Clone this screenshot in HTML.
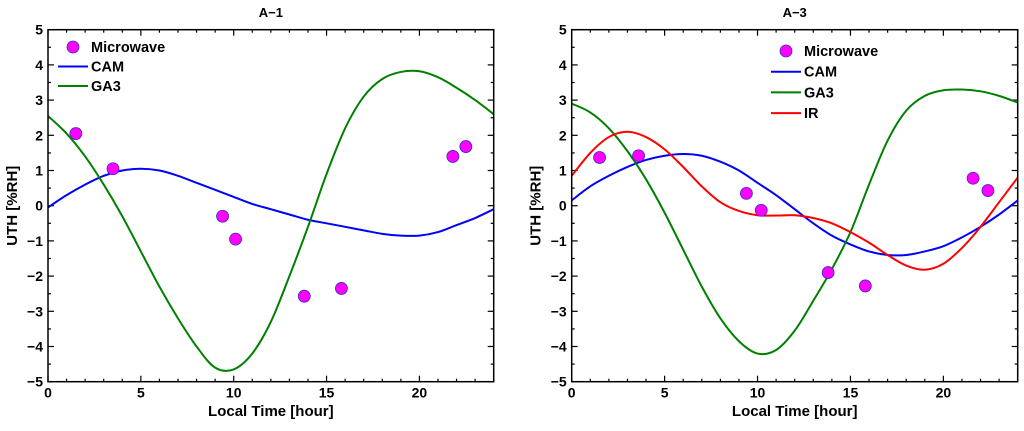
<!DOCTYPE html>
<html><head><meta charset="utf-8"><style>
body{margin:0;background:#fff}
svg text{font-family:"Liberation Sans",Arial,sans-serif;font-weight:bold;fill:#000}
</style></head><body>
<svg id="s" width="1024" height="426" viewBox="0 0 1024 426"></svg>
<script>
const hours=[0,1,2,3,4,5,6,7,8,9,10,11,12,13,14,15,16,17,18,19,20,21,22,23,24];
const a1Cam=[-0.05,0.3,0.6,0.85,1.0,1.05,1.0,0.85,0.65,0.45,0.25,0.05,-0.1,-0.25,-0.4,-0.5,-0.6,-0.7,-0.8,-0.85,-0.85,-0.75,-0.55,-0.35,-0.1];
const a1Ga3=[2.55,2.05,1.4,0.6,-0.3,-1.3,-2.3,-3.2,-4.0,-4.6,-4.65,-4.2,-3.3,-2.0,-0.6,0.9,2.2,3.1,3.6,3.8,3.82,3.65,3.35,3.0,2.6];
const a1MwX=[1.5,3.5,9.4,10.1,13.8,15.8,21.8,22.5];
const a1MwY=[2.05,1.05,-0.3,-0.95,-2.57,-2.35,1.4,1.68];
const a3Cam=[0.15,0.55,0.85,1.1,1.3,1.42,1.47,1.42,1.25,1.0,0.65,0.3,-0.1,-0.5,-0.85,-1.1,-1.3,-1.4,-1.4,-1.3,-1.15,-0.9,-0.6,-0.25,0.15];
const a3Ga3=[2.9,2.65,2.2,1.55,0.75,-0.2,-1.25,-2.3,-3.2,-3.85,-4.2,-4.1,-3.55,-2.7,-1.8,-0.75,0.6,1.85,2.7,3.12,3.28,3.3,3.25,3.12,2.93];
const a3Ir=[0.85,1.5,1.95,2.1,1.95,1.6,1.1,0.55,0.1,-0.15,-0.27,-0.28,-0.27,-0.35,-0.5,-0.75,-1.05,-1.4,-1.7,-1.82,-1.65,-1.2,-0.6,0.1,0.8];
const a3MwX=[1.5,3.6,9.4,10.2,13.8,15.8,21.6,22.4];
const a3MwY=[1.37,1.42,0.35,-0.13,-1.9,-2.28,0.78,0.43];
const xTicks=[0,5,10,15,20];
const yTicks=[-5,-4,-3,-2,-1,0,1,2,3,4,5];

const svg=document.getElementById('s');
const NS='http://www.w3.org/2000/svg';
function mk(tag,attrs,parent){const e=document.createElementNS(NS,tag);for(const k in attrs)e.setAttribute(k,attrs[k]);(parent||svg).appendChild(e);return e;}
function spline(pts){let d='M'+pts[0][0]+','+pts[0][1];for(let i=0;i<pts.length-1;i++){const p0=pts[Math.max(0,i-1)],p1=pts[i],p2=pts[i+1],p3=pts[Math.min(pts.length-1,i+2)];d+=' C'+(p1[0]+(p2[0]-p0[0])/6)+','+(p1[1]+(p2[1]-p0[1])/6)+' '+(p2[0]-(p3[0]-p1[0])/6)+','+(p2[1]-(p3[1]-p1[1])/6)+' '+p2[0]+','+p2[1];}return d;}

function panel(name,x0,x1,title,series,mwX,mwY,leg){
  const y0=29.7,y1=381.7;
  const X=v=>x0+(x1-x0)*v/24, Y=v=>y1-(y1-y0)*(v+5)/10;
  const g=mk('g',{});
  
  
  const t=mk('text',{x:(x0+x1)/2,y:17,'text-anchor':'middle','font-size':13},g);t.textContent=title;
  
  for(let h=0;h<=24;h++){const L=h%5==0?6:3;mk('line',{x1:X(h),x2:X(h),y1:y1,y2:y1-L,stroke:'#000','stroke-width':1.2},g);mk('line',{x1:X(h),x2:X(h),y1:y0,y2:y0+L,stroke:'#000','stroke-width':1.2},g);}
  for(let v=-5;v<=5;v+=0.5){const L=Number.isInteger(v)?6:3;mk('line',{x1:x0,x2:x0+L,y1:Y(v),y2:Y(v),stroke:'#000','stroke-width':1.2},g);mk('line',{x1:x1,x2:x1-L,y1:Y(v),y2:Y(v),stroke:'#000','stroke-width':1.2},g);}
  xTicks.forEach(v=>{const e=mk('text',{x:X(v),y:y1+16,'text-anchor':'middle','font-size':14},g);e.textContent=v;});
  yTicks.forEach(v=>{const e=mk('text',{x:x0-5,y:Y(v)+5,'text-anchor':'end','font-size':14},g);e.textContent=v<0?'\u2212'+(-v):v;});
  const xl=mk('text',{x:(x0+x1)/2,y:416,'text-anchor':'middle','font-size':15},g);xl.textContent='Local Time [hour]';
  
  const yl=mk('text',{x:0,y:0,'text-anchor':'middle','font-size':15,transform:'translate('+(x0-31)+','+(y0+y1)/2+') rotate(-90)'},g);yl.textContent='UTH [%RH]';
  
  const cp=mk('clipPath',{id:'c'+name},g);mk('rect',{x:x0,y:y0,width:x1-x0,height:y1-y0},cp);
  series.forEach(s=>{const p=mk('path',{d:spline(hours.map((h,i)=>[X(h),Y(s.v[i])])),fill:'none',stroke:s.c,'stroke-width':2,'clip-path':'url(#c'+name+')'},g);
    });
  mwX.forEach((h,i)=>{const c=mk('circle',{cx:X(h),cy:Y(mwY[i]),r:6,fill:'#ff00ff',stroke:'#3030c0','stroke-width':0.8},g);
    });
  mk('rect',{x:x0,y:y0,width:x1-x0,height:y1-y0,fill:'none',stroke:'#000','stroke-width':1.5},g);
  const lg=mk('g',{},g);
  const items=[{n:'Microwave'}].concat(series);
  items.forEach((s,i)=>{const y=leg.y+i*leg.dy;
    if(s.c) mk('line',{x1:leg.lx,x2:leg.lx+30,y1:y,y2:y,stroke:s.c,'stroke-width':2},lg);
    else mk('circle',{cx:leg.lx+15,cy:y,r:6,fill:'#ff00ff',stroke:'#3030c0','stroke-width':0.8},lg);
    const e=mk('text',{x:leg.lx+33,y:y+5,'font-size':14.5},lg);e.textContent=s.n;
    });
}
panel('a1',48,493.7,'A\u22121',[{n:'CAM',c:'#0000ff',v:a1Cam},{n:'GA3',c:'#008000',v:a1Ga3}],a1MwX,a1MwY,{lx:58,y:47,dy:19.5});
panel('a3',571.7,1017.7,'A\u22123',[{n:'CAM',c:'#0000ff',v:a3Cam},{n:'GA3',c:'#008000',v:a3Ga3},{n:'IR',c:'#ff0000',v:a3Ir}],a3MwX,a3MwY,{lx:771,y:51,dy:20.7});
</script>
</body></html>
